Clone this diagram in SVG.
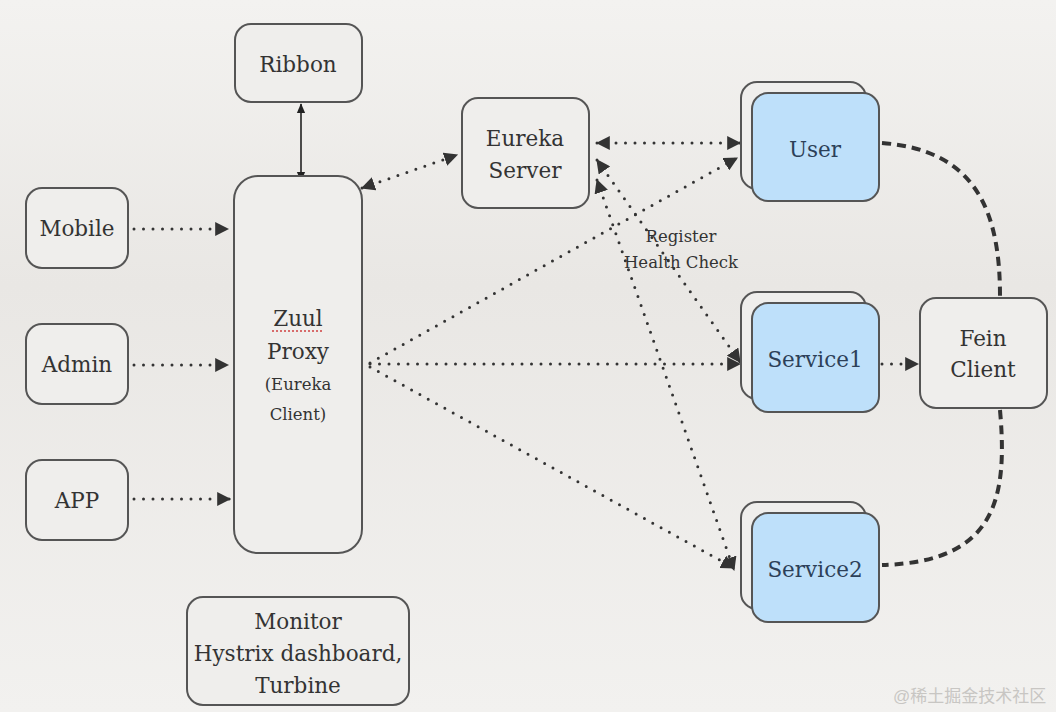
<svg xmlns="http://www.w3.org/2000/svg" width="1056" height="712" viewBox="0 0 1056 712">
<defs>
<linearGradient id="bg" x1="0" y1="0" x2="0" y2="1">
<stop offset="0" stop-color="#F3F2F0"/>
<stop offset="0.4" stop-color="#E9E7E4"/>
<stop offset="1" stop-color="#F2F1EF"/>
</linearGradient>
<marker id="ar" viewBox="0 0 12 12" markerUnits="userSpaceOnUse" markerWidth="14" markerHeight="14" refX="11" refY="6" orient="auto-start-reverse">
<path d="M0,0 L12,6 L0,12 z" fill="#333"/>
</marker>
<marker id="ars" viewBox="0 0 12 12" markerUnits="userSpaceOnUse" markerWidth="10" markerHeight="10" refX="11" refY="6" orient="auto-start-reverse">
<path d="M0,1 L12,6 L0,11 z" fill="#222"/>
</marker>
<style>
.box{fill:#EFEEEC;stroke:#555;stroke-width:2}
.blue{fill:#BEE0FA;stroke:#555;stroke-width:2}
.t{font-family:"DejaVu Serif","Liberation Serif",serif;font-size:21.5px;fill:#333;text-anchor:middle}
.tb{font-family:"DejaVu Serif","Liberation Serif",serif;font-size:21.5px;fill:#2C4058;text-anchor:middle}
.ts{font-family:"DejaVu Serif","Liberation Serif",serif;font-size:16.5px;fill:#333;text-anchor:middle}
.dot{fill:none;stroke:#333;stroke-width:3;stroke-linecap:round;stroke-dasharray:0 9.5}
.dash{fill:none;stroke:#333;stroke-width:4;stroke-dasharray:9 6}
</style>
</defs>
<rect width="1056" height="712" fill="url(#bg)"/>

<g id="connectors">
<line x1="301" y1="104" x2="301" y2="181" stroke="#222" stroke-width="1.6" marker-start="url(#ars)" marker-end="url(#ars)"/>
<line class="dot" x1="134" y1="229" x2="228" y2="229" marker-end="url(#ar)"/>
<line class="dot" x1="134" y1="365" x2="228" y2="365" marker-end="url(#ar)"/>
<line class="dot" x1="134" y1="499" x2="230" y2="499" marker-end="url(#ar)"/>
<line class="dot" x1="362" y1="188" x2="457" y2="155" marker-start="url(#ar)" marker-end="url(#ar)"/>
<line class="dot" x1="597" y1="143" x2="740" y2="143" marker-start="url(#ar)" marker-end="url(#ar)"/>
<line class="dot" x1="597" y1="160" x2="740" y2="362" marker-start="url(#ar)" marker-end="url(#ar)"/>
<line class="dot" x1="597" y1="180" x2="734" y2="570" marker-start="url(#ar)" marker-end="url(#ar)"/>
<line class="dot" x1="370" y1="363" x2="737" y2="158" marker-end="url(#ar)"/>
<line class="dot" x1="370" y1="364" x2="740" y2="364" marker-end="url(#ar)"/>
<line class="dot" x1="370" y1="367" x2="734" y2="568" marker-end="url(#ar)"/>
<line class="dot" x1="882" y1="364" x2="918" y2="364" marker-end="url(#ar)"/>
<path class="dash" d="M882,143 C975,150 1000,210 1000,296"/>
<path class="dash" d="M1000,410 C1008,500 995,562 882,565"/>
</g>

<g id="ribbon"><rect class="box" x="235" y="24" width="127" height="78" rx="16"/><text class="t" x="298" y="72">Ribbon</text></g>
<g id="mobile"><rect class="box" x="26" y="188" width="102" height="80" rx="16"/><text class="t" x="77" y="236">Mobile</text></g>
<g id="admin"><rect class="box" x="26" y="324" width="102" height="80" rx="16"/><text class="t" x="77" y="372">Admin</text></g>
<g id="app"><rect class="box" x="26" y="460" width="102" height="80" rx="16"/><text class="t" x="77" y="508">APP</text></g>
<g id="zuul"><rect class="box" x="234" y="176" width="128" height="377" rx="24"/>
<text class="t" x="298" y="326">Zuul</text>
<line x1="272" y1="331" x2="324" y2="331" stroke="#D04040" stroke-width="1.5" stroke-dasharray="2 2"/>
<text class="t" x="298" y="359">Proxy</text>
<text class="ts" x="298" y="390">(Eureka</text>
<text class="ts" x="298" y="420">Client)</text></g>
<g id="eureka"><rect class="box" x="462" y="98" width="127" height="110" rx="16"/><text class="t" x="525" y="146">Eureka</text><text class="t" x="525" y="178">Server</text></g>
<g id="user"><rect class="box" x="741" y="82" width="125" height="107" rx="16"/><rect class="blue" x="752" y="93" width="127" height="108" rx="16"/><text class="tb" x="815" y="157">User</text></g>
<g id="service1"><rect class="box" x="741" y="292" width="125" height="107" rx="16"/><rect class="blue" x="752" y="303" width="127" height="109" rx="16"/><text class="tb" x="815" y="367">Service1</text></g>
<g id="service2"><rect class="box" x="741" y="502" width="125" height="107" rx="16"/><rect class="blue" x="752" y="513" width="127" height="109" rx="16"/><text class="tb" x="815" y="577">Service2</text></g>
<g id="fein"><rect class="box" x="920" y="298" width="127" height="110" rx="16"/><text class="t" x="983" y="346">Fein</text><text class="t" x="983" y="377">Client</text></g>
<g id="monitor"><rect class="box" x="187" y="597" width="222" height="108" rx="16"/><text class="t" x="298" y="629">Monitor</text><text class="t" x="298" y="661">Hystrix dashboard,</text><text class="t" x="298" y="693">Turbine</text></g>
<g id="labels"><text class="ts" x="681" y="242">Register</text><text class="ts" x="681" y="268">Health Check</text></g>
<text x="893" y="702" font-family="'Liberation Sans','Noto Sans CJK SC',sans-serif" font-size="17" fill="#C8C6C3">@稀土掘金技术社区</text>
</svg>
